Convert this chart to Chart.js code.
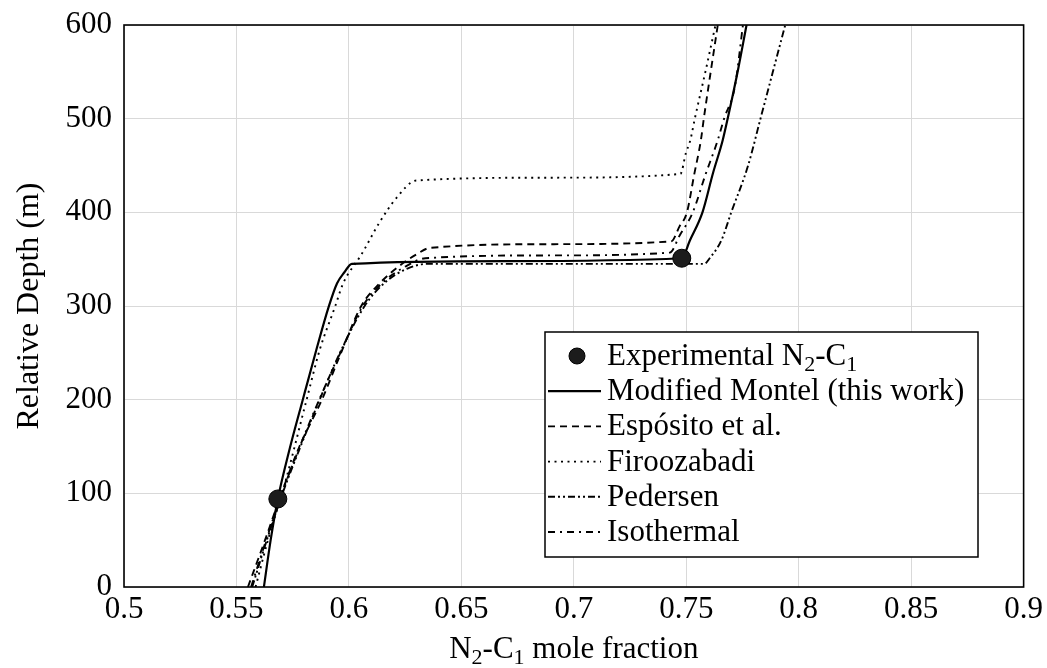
<!DOCTYPE html>
<html>
<head>
<meta charset="utf-8">
<script src="https://cdn.jsdelivr.net/npm/chart.js@4.4.1/dist/chart.umd.min.js"></script>
<style>
  html, body { margin: 0; padding: 0; background: #fff; }
</style>
</head>
<body>
<canvas id="depthChart" width="1047" height="668"></canvas>
<script>
// Mole fraction of N2-C1 vs relative depth, one pair of arrays per model
const expX = [0.5684, 0.748];
const expDepth = [94, 351];

const montelX = [0.5622, 0.5652, 0.5684, 0.5735, 0.5795, 0.5855, 0.5910, 0.5947, 0.5980, 0.6013, 0.6700, 0.7480, 0.7516, 0.7572, 0.7619, 0.7662, 0.7684, 0.7730, 0.7768];
const montelDepth = [0, 50, 94, 146, 200, 253, 299, 324, 336, 345, 348, 351, 370, 400, 442, 477, 500, 552, 600];

const espositoX = [0.5551, 0.5627, 0.5700, 0.5780, 0.5880, 0.5965, 0.6055, 0.6140, 0.6220, 0.6300, 0.6360, 0.6900, 0.7433, 0.7470, 0.7503, 0.7535, 0.7565, 0.7578, 0.7640];
const espositoDepth = [0, 50, 100, 150, 200, 250, 300, 325, 342, 355, 362, 366, 369, 385, 400, 440, 477, 500, 600];

const firoozabadiX = [0.5585, 0.5640, 0.5716, 0.5812, 0.5870, 0.5938, 0.5974, 0.6030, 0.6048, 0.6133, 0.6210, 0.6300, 0.6900, 0.7474, 0.7498, 0.7518, 0.7538, 0.7585, 0.7630];
const firoozabadiDepth = [0, 50, 111, 200, 253, 299, 324, 346, 352, 388, 415, 434, 437, 441, 463, 477, 500, 550, 600];

const pedersenX = [0.5570, 0.5635, 0.5705, 0.5785, 0.5870, 0.5960, 0.6070, 0.6160, 0.6260, 0.6350, 0.7000, 0.7580, 0.7604, 0.7656, 0.7700, 0.7775, 0.7830, 0.7885, 0.7940];
const pedersenDepth = [0, 50, 100, 150, 200, 250, 300, 325, 340, 345, 345, 345, 351, 370, 400, 450, 500, 550, 600];

const isothermalX = [0.5565, 0.5632, 0.5702, 0.5782, 0.5868, 0.5962, 0.6062, 0.6150, 0.6250, 0.6340, 0.6900, 0.7427, 0.7470, 0.7529, 0.7585, 0.7640, 0.7668, 0.7716, 0.7752];
const isothermalDepth = [0, 50, 100, 150, 200, 250, 300, 325, 342, 351, 354, 357, 375, 400, 440, 477, 500, 534, 600];

const xTickValues = [0.5, 0.55, 0.6, 0.65, 0.7, 0.75, 0.8, 0.85, 0.9];
const depthTickValues = [0, 100, 200, 300, 400, 500, 600];

const FONT = '"Liberation Serif", serif';
const FONT_SIZE = 31;

const toPoints = (xs, ds) => xs.map((x, i) => ({ x: x, y: ds[i] }));

// split a label into normal runs and subscript digit runs
function richParts(text) {
    const subs = '₀₁₂₃₄₅₆₇₈₉';
    const parts = [];
    for (const ch of text) {
        const i = subs.indexOf(ch);
        const sub = i >= 0;
        const c = sub ? String(i) : ch;
        const last = parts[parts.length - 1];
        if (last && last.sub === sub) last.text += c;
        else parts.push({ text: c, sub: sub });
    }
    return parts;
}

function drawRich(ctx, text, x, y, size, align) {
    const parts = richParts(text);
    const fontFor = p => `${p.sub ? Math.round(size * 0.7) : size}px ${FONT}`;
    let total = 0;
    parts.forEach(p => {
        ctx.font = fontFor(p);
        p.w = ctx.measureText(p.text).width;
        total += p.w;
    });
    let cx = align === 'center' ? x - total / 2 : x;
    ctx.textAlign = 'left';
    ctx.textBaseline = 'alphabetic';
    ctx.fillStyle = '#000';
    parts.forEach(p => {
        ctx.font = fontFor(p);
        ctx.fillText(p.text, cx, y + (p.sub ? size * 0.2 : 0));
        cx += p.w;
    });
}

// frame, x axis title and the boxed legend inside the plot
const decorations = {
    id: 'decorations',
    afterDraw(chart) {
        const ctx = chart.ctx;
        const area = chart.chartArea;
        ctx.save();

        ctx.strokeStyle = '#000';
        ctx.lineWidth = 1.6;
        ctx.setLineDash([]);
        ctx.strokeRect(area.left, area.top, area.right - area.left, area.bottom - area.top);

        drawRich(ctx, 'N₂-C₁ mole fraction', (area.left + area.right) / 2, 658, FONT_SIZE, 'center');

        const boxLeft = 545, boxTop = 332, boxW = 433, boxH = 225;
        ctx.fillStyle = '#fff';
        ctx.fillRect(boxLeft, boxTop, boxW, boxH);
        ctx.strokeStyle = '#000';
        ctx.lineWidth = 1.5;
        ctx.strokeRect(boxLeft, boxTop, boxW, boxH);

        chart.data.datasets.forEach((ds, i) => {
            const cy = 356 + i * 35.2;
            if (ds.showLine === false) {
                ctx.beginPath();
                ctx.arc(577, cy, 8, 0, Math.PI * 2);
                ctx.fillStyle = ds.backgroundColor;
                ctx.fill();
                ctx.lineWidth = 1;
                ctx.strokeStyle = '#000';
                ctx.stroke();
            } else {
                ctx.beginPath();
                ctx.setLineDash(ds.borderDash || []);
                ctx.lineWidth = ds.borderWidth;
                ctx.strokeStyle = ds.borderColor;
                ctx.moveTo(548, cy);
                ctx.lineTo(601, cy);
                ctx.stroke();
                ctx.setLineDash([]);
            }
            drawRich(ctx, ds.label, 607, cy + 9, FONT_SIZE, 'left');
        });
        ctx.restore();
    }
};

const lineStyle = (label, xs, ds, dash, width) => ({
    label: label,
    data: toPoints(xs, ds),
    showLine: true,
    borderColor: '#000',
    backgroundColor: '#000',
    borderWidth: width,
    borderDash: dash,
    borderCapStyle: 'butt',
    pointRadius: 0,
    cubicInterpolationMode: 'monotone',
    order: 1
});

const chartData = {
    datasets: [
        {
            label: 'Experimental N₂-C₁',
            data: toPoints(expX, expDepth),
            showLine: false,
            backgroundColor: '#1c1c1c',
            borderColor: '#000',
            borderWidth: 1,
            pointRadius: 9,
            order: 0
        },
        lineStyle('Modified Montel (this work)', montelX, montelDepth, [], 2.2),
        lineStyle('Espósito et al.', espositoX, espositoDepth, [7, 5], 1.9),
        lineStyle('Firoozabadi', firoozabadiX, firoozabadiDepth, [2, 4.5], 1.9),
        lineStyle('Pedersen', pedersenX, pedersenDepth, [7, 3, 2, 3, 2, 3], 1.9),
        lineStyle('Isothermal', isothermalX, isothermalDepth, [7, 5, 2, 5], 1.9)
    ]
};

const chartConfig = {
    type: 'scatter',
    data: chartData,
    options: {
        responsive: false,
        animation: false,
        layout: { padding: { top: 25, right: 23, left: 0, bottom: 0 } },
        plugins: {
            legend: { display: false },
            tooltip: { enabled: false }
        },
        scales: {
            x: {
                type: 'linear',
                min: 0.5,
                max: 0.9,
                afterBuildTicks: scale => { scale.ticks = xTickValues.map(v => ({ value: v })); },
                afterFit: scale => { scale.height = 81; },
                grid: { color: '#d9d9d9', lineWidth: 1, drawTicks: false },
                border: { display: false },
                ticks: {
                    color: '#000',
                    padding: 4,
                    maxRotation: 0,
                    font: { family: FONT, size: FONT_SIZE },
                    callback: value => String(value)
                }
            },
            y: {
                type: 'linear',
                min: 0,
                max: 600,
                afterBuildTicks: scale => { scale.ticks = depthTickValues.map(v => ({ value: v })); },
                afterFit: scale => {
                    scale.width = 124;
                    scale.paddingTop = 0;
                    scale.paddingBottom = 0;
                },
                grid: { color: '#d9d9d9', lineWidth: 1, drawTicks: false },
                border: { display: false },
                title: {
                    display: true,
                    text: 'Relative Depth (m)',
                    color: '#000',
                    padding: { top: 10, bottom: 0 },
                    font: { family: FONT, size: 32 }
                },
                ticks: {
                    color: '#000',
                    padding: 12,
                    font: { family: FONT, size: FONT_SIZE }
                }
            }
        }
    },
    plugins: [decorations]
};

const ctx = document.getElementById('depthChart').getContext('2d');
new Chart(ctx, chartConfig);
</script>
</body>
</html>
